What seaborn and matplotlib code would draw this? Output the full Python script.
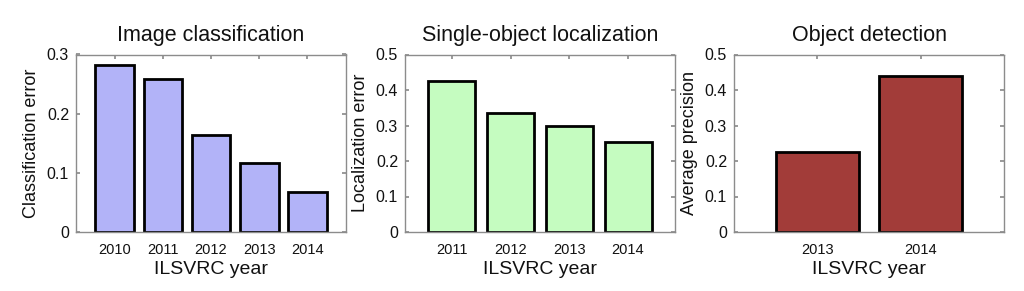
import matplotlib
matplotlib.use("Agg")
import matplotlib.pyplot as plt
import seaborn as sns
import pandas as pd

cls_years = ["2010", "2011", "2012", "2013", "2014"]
cls_error = [0.282, 0.258, 0.164, 0.117, 0.067]
loc_years = ["2011", "2012", "2013", "2014"]
loc_error = [0.425, 0.335, 0.299, 0.253]
det_years = ["2013", "2014"]
det_ap = [0.226, 0.439]

titles = ["Image classification", "Single-object localization", "Object detection"]
ylabels = ["Classification error", "Localization error", "Average precision"]
colors = ["#b2b3f8", "#c5fcc0", "#a23c39"]
ylims = [0.3, 0.5, 0.5]
yticks = [[0, 0.1, 0.2, 0.3], [0, 0.1, 0.2, 0.3, 0.4, 0.5], [0, 0.1, 0.2, 0.3, 0.4, 0.5]]

sns.set_theme(style="white")
plt.rcParams["font.family"] = ["Liberation Sans", "DejaVu Sans"]
plt.rcParams["text.color"] = "#111111"
plt.rcParams["axes.labelcolor"] = "#111111"
plt.rcParams["xtick.labelcolor"] = "#111111"
plt.rcParams["ytick.labelcolor"] = "#111111"

fig = plt.figure(figsize=(10.24, 2.91), dpi=100)
lefts = [76 / 1024, 405 / 1024, 734 / 1024]
w = 270 / 1024
bottom = (291 - 232) / 291
h = 177.5 / 291

data = [(cls_years, cls_error), (loc_years, loc_error), (det_years, det_ap)]
for i, (yrs, vals) in enumerate(data):
    ax = fig.add_axes([lefts[i], bottom, w, h])
    df = pd.DataFrame({"year": yrs, "val": vals})
    sns.barplot(data=df, x="year", y="val", color=colors[i], saturation=1,
                width=0.8, edgecolor="black", linewidth=2, ax=ax)
    n = len(yrs)
    ax.set_xlim(-0.8, n - 0.2)
    ax.set_ylim(0, ylims[i])
    ax.set_yticks(yticks[i])
    ax.set_yticklabels(["0" if t == 0 else f"{t:g}" for t in yticks[i]], fontsize=11.5)
    ax.set_xticks(range(n))
    ax.set_xticklabels(yrs, fontsize=10.5)
    ax.set_title(titles[i], fontsize=15.5, pad=10)
    ax.set_ylabel(ylabels[i], fontsize=13, labelpad=5)
    ax.set_xlabel("ILSVRC year", fontsize=14, labelpad=3)
    for s in ax.spines.values():
        s.set_color("#8c8c8c")
        s.set_linewidth(1.0)
    ax.tick_params(direction="in", length=3, color="#8c8c8c", top=True, right=True,
                   bottom=True, left=True, pad=5)
    ax.tick_params(axis="x", pad=8)

fig.savefig("out.png", dpi=100, facecolor="white")
